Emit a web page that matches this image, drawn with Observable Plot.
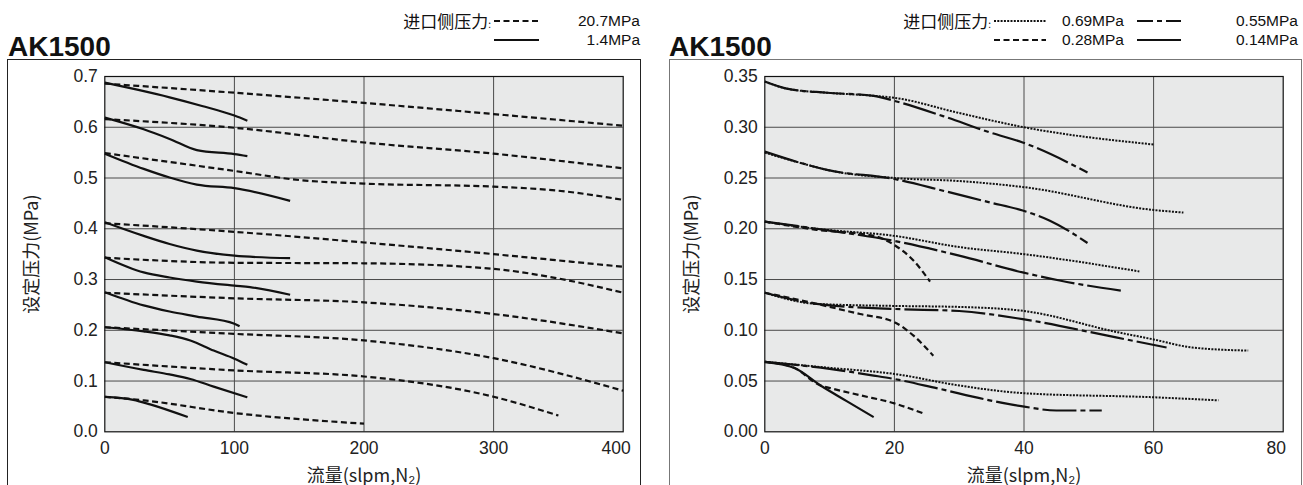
<!DOCTYPE html>
<html><head><meta charset="utf-8">
<script src="https://cdn.jsdelivr.net/npm/d3@7"></script>
<script src="https://cdn.jsdelivr.net/npm/@observablehq/plot@0.6"></script>
<style>
body{margin:0;width:1303px;height:485px;overflow:hidden;background:#fff;position:relative;font-family:"Liberation Sans",Arial,sans-serif;color:#111}
.abs{position:absolute;white-space:nowrap}
.box{position:absolute;border:1px solid #222;border-bottom:none}
.title{font-weight:bold;font-size:28px;line-height:28px}
.lg{font-size:15.5px;line-height:18px}
.cjk{font-family:"Noto Sans CJK SC","Noto Sans",sans-serif;font-size:17px;line-height:18px}
</style></head><body>
<script>
// ---------------- data ----------------
const leftXTicks = [0, 100, 200, 300, 400];
const leftYTicks = [0, 0.1, 0.2, 0.3, 0.4, 0.5, 0.6, 0.7];
const rightXTicks = [0, 20, 40, 60, 80];
const rightYTicks = [0, 0.05, 0.10, 0.15, 0.20, 0.25, 0.30, 0.35];

// Left chart, inlet 20.7MPa (dashed)
const left207 = [
  [[0,0.686],[100,0.668],[200,0.648],[300,0.626],[400,0.603]],
  [[0,0.616],[100,0.599],[200,0.570],[300,0.548],[400,0.519]],
  [[0,0.549],[100,0.514],[150,0.496],[200,0.489],[300,0.483],[350,0.475],[400,0.457]],
  [[0,0.411],[100,0.394],[200,0.373],[300,0.350],[400,0.325]],
  [[0,0.343],[100,0.333],[200,0.332],[300,0.321],[350,0.302],[400,0.274]],
  [[0,0.274],[100,0.263],[200,0.255],[300,0.232],[400,0.194]],
  [[0,0.206],[100,0.193],[200,0.180],[300,0.145],[400,0.081]],
  [[0,0.137],[100,0.121],[200,0.109],[300,0.069],[350,0.032]],
  [[0,0.069],[30,0.062],[100,0.037],[200,0.016]]
];
// Left chart, inlet 1.4MPa (solid)
const left14 = [
  [[0,0.688],[25,0.674],[50,0.659],[75,0.642],[100,0.623],[110,0.613]],
  [[0,0.619],[30,0.596],[50,0.577],[71,0.555],[100,0.547],[110,0.543]],
  [[0,0.548],[30,0.518],[50,0.501],[71,0.487],[100,0.480],[143,0.455]],
  [[0,0.413],[30,0.386],[50,0.370],[71,0.357],[100,0.347],[143,0.342]],
  [[0,0.344],[30,0.314],[50,0.304],[71,0.296],[100,0.288],[112,0.285],[143,0.270]],
  [[0,0.275],[30,0.249],[50,0.237],[71,0.227],[100,0.213],[104,0.208]],
  [[0,0.206],[30,0.198],[50,0.190],[66,0.180],[84,0.160],[100,0.144],[110,0.132]],
  [[0,0.137],[30,0.122],[50,0.113],[66,0.104],[84,0.089],[110,0.068]],
  [[0,0.069],[22,0.063],[35,0.054],[64,0.029]]
];
// Right chart, inlet 0.69MPa (dotted)
const right069 = [
  [[0,0.345],[3.4,0.338],[9.6,0.334],[16.8,0.331],[20,0.329],[30,0.314],[40,0.300],[60,0.283]],
  [[0,0.275],[6,0.264],[9.6,0.258],[20,0.250],[30,0.247],[40,0.241],[60,0.2185],[64.6,0.216]],
  [[0,0.207],[8,0.200],[20,0.193],[30,0.182],[40,0.175],[57.8,0.158]],
  [[0,0.137],[8,0.126],[20,0.124],[30,0.123],[40,0.119],[54.5,0.098],[60,0.091],[66,0.083],[74.6,0.080]],
  [[0,0.069],[10,0.063],[20,0.057],[30,0.0456],[40,0.038],[60,0.034],[70,0.031]]
];
// Right chart, inlet 0.55MPa (dash-dot)
const right055 = [
  [[0,0.345],[3.4,0.338],[9.6,0.334],[16.8,0.331],[20,0.326],[27.5,0.311],[34.7,0.295],[39.8,0.285],[49.8,0.2555]],
  [[0,0.276],[6,0.264],[9.6,0.258],[20,0.249],[27.5,0.2375],[34.7,0.226],[39.8,0.218],[44,0.208],[49.8,0.186]],
  [[0,0.207],[8,0.200],[20,0.188],[30,0.1735],[39.8,0.157],[45.5,0.149],[55,0.139]],
  [[0,0.137],[8,0.126],[20,0.121],[30,0.119],[39.8,0.111],[54.2,0.093],[62,0.083]],
  [[0,0.069],[10,0.062],[16.8,0.0554],[20,0.052],[26.5,0.043],[34.7,0.031],[39.8,0.025],[45,0.021],[52,0.021]]
];
// Right chart, inlet 0.28MPa (dashed)
const right028 = [
  [[0,0.207],[8,0.199],[16.8,0.193],[20,0.184],[22.9,0.169],[25.5,0.148]],
  [[0,0.137],[8,0.126],[14.7,0.116],[20,0.108],[22.9,0.095],[26,0.075]],
  [[0,0.069],[4.5,0.063],[8.6,0.0456],[10.1,0.043],[14.7,0.036],[20,0.028],[24.5,0.018]]
];
// Right chart, inlet 0.14MPa (solid)
const right014 = [
  [[0,0.0685],[4.5,0.063],[8.6,0.0456],[12.7,0.030],[16.8,0.0145]]
];

const titleText = "AK1500";
const inletLabel = "进口侧压力";
const yLabelText = "设定压力(MPa)";
const xLabelText = "流量(slpm,N₂)";

// ---------------- drawing ----------------
const INK = "#111";
const DASH = "6,3.5", DOT = "2,1.3", DASHDOT = "34,4,5,4";
const LABEL_FONT = "'Noto Sans CJK SC', 'Liberation Sans', sans-serif";

function rows(series, tag) {
  const out = [];
  series.forEach((s, i) => s.forEach(([x, y]) => out.push({x, y, id: tag + i})));
  return out;
}
function lineMark(series, tag, dash, sw = 2.2) {
  return Plot.line(rows(series, tag), {x: "x", y: "y", z: "id", curve: "monotone-x",
    stroke: INK, strokeWidth: sw, strokeDasharray: dash, strokeLinecap: "butt"});
}

function chart({xDomain, yDomain, xTicks, yTicks, yFmt, lines, width, height, ml, mr, mt, mb, ylabDx}) {
  return Plot.plot({
    width, height, marginLeft: ml, marginRight: mr, marginTop: mt, marginBottom: mb,
    style: {fontSize: "17.5px", fontFamily: "'Liberation Sans', Arial, sans-serif", color: "#222", background: "transparent", overflow: "visible"},
    x: {domain: xDomain},
    y: {domain: yDomain},
    marks: [
      Plot.frame({fill: "#e8e9e9"}),
      Plot.gridX(xTicks.slice(1, -1), {stroke: "#4a4a4a", strokeOpacity: 1, strokeWidth: 1}),
      Plot.gridY(yTicks.slice(1, -1), {stroke: "#4a4a4a", strokeOpacity: 1, strokeWidth: 1}),
      ...lines,
      Plot.frame({stroke: "#111", strokeWidth: 1.2}),
      Plot.axisX(xTicks.slice(0, -1), {tickSize: 0, tickPadding: 10, label: null, fontSize: 17.5}),
      Plot.axisX(xTicks.slice(-1), {tickSize: 0, tickPadding: 10, label: null, fontSize: 17.5, dx: -7}),
      Plot.axisY(yTicks, {tickSize: 0, tickPadding: 7, tickFormat: yFmt, label: null, fontSize: 17.5}),
      Plot.text([xLabelText], {text: d => d, frameAnchor: "bottom", dy: 44, lineAnchor: "middle",
        textAnchor: "middle", fontSize: 18, fontFamily: LABEL_FONT, fill: "#222"}),
      Plot.text([yLabelText], {text: d => d, frameAnchor: "left", dx: ylabDx, rotate: -90,
        textAnchor: "middle", lineAnchor: "middle", fontSize: 18, fontFamily: LABEL_FONT, fill: "#222"})
    ]
  });
}

function place(el, left, top) {
  el.style.position = "absolute"; el.style.left = left + "px"; el.style.top = top + "px";
  document.body.appendChild(el); return el;
}
function div(cls, html, left, top, extra = "") {
  const d = document.createElement("div");
  d.className = "abs " + cls; d.innerHTML = html;
  d.style.cssText += `left:${left}px;top:${top}px;${extra}`;
  document.body.appendChild(d); return d;
}
function swatch(dash, left, cy, w = 46, sw = 2.2) {
  const ns = "http://www.w3.org/2000/svg";
  const s = document.createElementNS(ns, "svg");
  s.setAttribute("width", w); s.setAttribute("height", 8);
  s.style.position = "absolute"; s.style.left = left + "px"; s.style.top = (cy - 4) + "px";
  const l = document.createElementNS(ns, "line");
  l.setAttribute("x1", 0); l.setAttribute("x2", w); l.setAttribute("y1", 4); l.setAttribute("y2", 4);
  l.setAttribute("stroke", INK); l.setAttribute("stroke-width", sw);
  if (dash) l.setAttribute("stroke-dasharray", dash);
  s.appendChild(l); document.body.appendChild(s);
}
function rightText(cls, html, right, cy) {
  const d = div(cls, html, 0, cy - 9);
  d.style.left = "auto"; d.style.right = (1303 - right) + "px"; return d;
}

// frames
div("box", "", 7, 59, "width:632px;height:440px;");
div("box", "", 669, 59, "width:631px;height:440px;border-color:#777;");

// left chart
place(chart({xDomain: [0, 400], yDomain: [0, 0.7], xTicks: leftXTicks, yTicks: leftYTicks,
  yFmt: d3.format(".1f"), width: 634, height: 426, ml: 97.3, mr: 18.3, mt: 17, mb: 53.7, ylabDx: -73,
  lines: [lineMark(left207, "a", DASH), lineMark(left14, "b", null)]}), 7, 59);

// right chart
place(chart({xDomain: [0, 80], yDomain: [0, 0.35], xTicks: rightXTicks, yTicks: rightYTicks,
  yFmt: d3.format(".2f"), width: 632, height: 426, ml: 95.3, mr: 18.3, mt: 17, mb: 53.7, ylabDx: -72.5,
  lines: [lineMark(right069, "p", DOT, 2), lineMark(right055, "q", DASHDOT), lineMark(right028, "r", DASH), lineMark(right014, "s", null)]}), 669, 59);

// titles
div("title", titleText, 8, 33);
div("title", titleText, 669, 33);

// left legend
const r1 = 21, r2 = 40;
rightText("cjk", inletLabel + '<span style="font-size:10px">:</span>', 491, r1);
swatch(DASH, 494, r1, 45);
rightText("lg", "20.7MPa", 640, r1);
swatch(null, 494, r2, 45);
rightText("lg", "1.4MPa", 640, r2);

// right legend
rightText("cjk", inletLabel + '<span style="font-size:10px">:</span>', 991, r1);
swatch(DOT, 994, r1, 52, 2);
rightText("lg", "0.69MPa", 1124, r1);
swatch("16,4,5,4", 1137, r1, 44);
rightText("lg", "0.55MPa", 1298, r1);
swatch(DASH, 994, r2, 52);
rightText("lg", "0.28MPa", 1124, r2);
swatch(null, 1137, r2, 44);
rightText("lg", "0.14MPa", 1298, r2);
</script>
</body></html>
